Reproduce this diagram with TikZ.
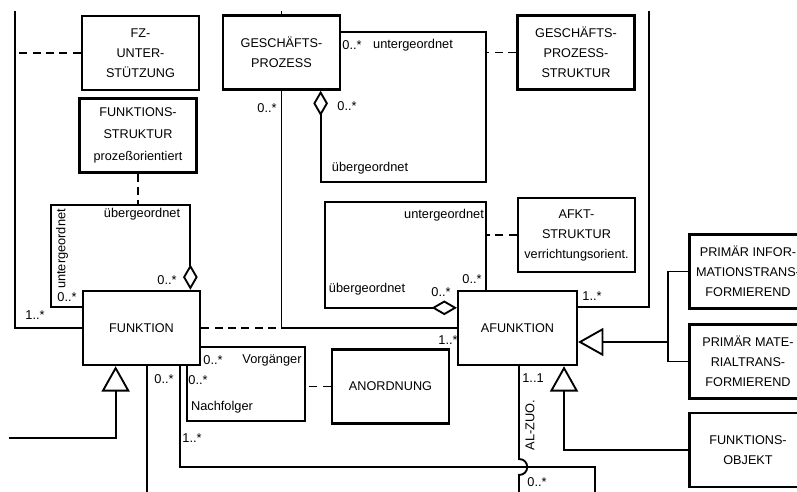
\documentclass[tikz,border=0pt]{standalone}
\usepackage{fontspec}
\setmainfont{Liberation Sans}
\usetikzlibrary{calc,positioning,arrows.meta}

\tikzset{
  klasse/.style={draw, line width=1.8pt, inner sep=0pt, align=center,
    minimum width=88pt, minimum height=55.5pt,
    font=\fontsize{9.5}{15}\selectfont},
  lbl/.style={inner sep=0pt, font=\fontsize{9.6}{11}\selectfont},
  kante/.style={line width=1.4pt},
  strich/.style={kante, dash pattern=on 6pt off 4pt},
  gen/.style={kante, -{Triangle[open, length=19pt, width=21pt]}},
  agg/.style={kante, -{Diamond[open, length=19pt, width=11pt]}}
}

\begin{document}
\begin{tikzpicture}[x=0.75pt, y=-0.75pt]

\fill[white] (0,0) rectangle (797,492);
\useasboundingbox (0,0) rectangle (797,492);

\node[klasse] (fz) at (140.5,53) {FZ-\\UNTER-\\STÜTZUNG};
\node[klasse, font=\fontsize{9.5}{16.5}\selectfont] (fstruk) at (138,135.5) {FUNKTIONS-\\STRUKTUR\\prozeßorientiert};
\node[klasse] (gp) at (281.5,52.5) {GESCHÄFTS-\\PROZESS};
\node[klasse] (gps) at (576,52.5) {GESCHÄFTS-\\PROZESS-\\STRUKTUR};
\node[klasse] (funktion) at (141.5,328) {FUNKTION};
\node[klasse] (afkt) at (576.5,235) {AFKT-\\STRUKTUR\\verrichtungsorient.};
\node[klasse, minimum width=89pt] (afunktion) at (517.5,328) {AFUNKTION};
\node[klasse] (anordnung) at (390.5,386.5) {ANORDNUNG};
\node[klasse] (pinfo) at (748,271.5) {PRIMÄR INFOR-\\MATIONSTRANS-\\FORMIEREND};
\node[klasse] (pmat) at (748,361.5) {PRIMÄR MATE-\\RIALTRANS-\\FORMIEREND};
\node[klasse] (fobj) at (748,450) {FUNKTIONS-\\OBJEKT};

\coordinate (lefttop) at (15,11);
\coordinate (rechts) at (649,11);
\coordinate (bot) at (0,500);
\coordinate (gpr) at (486,182);
\coordinate (fl) at (51,205);
\coordinate (vl) at (305,421);
\coordinate (gl) at (9,438);
\coordinate (br) at (595,467);
\coordinate (al) at (325,202);
\coordinate (gabel) at (668,342);
\coordinate (f1) at ($(funktion.south west)+(65,0)$);
\coordinate (f2) at ($(funktion.south east)+(-21,0)$);
\coordinate (az) at ($(afunktion.south west)+(62,0)$);
\coordinate (ag) at ($(afunktion.south east)+(-14,0)$);
\coordinate (ar) at ($(afunktion.north west)+(29,0)$);

\draw[kante] (funktion.west) -| (lefttop);
\draw[strich] (fz.west) -- (fz.west -| lefttop);
\draw[kante] (gp.north) -- (gp.north |- lefttop);
\draw[kante] (gp.south) |- (afunktion.west);
\draw[strich] (funktion.east) -- (funktion.east -| gp.south);

\draw[agg] ($(gp.north east)+(0,18)$) -| (gpr) -| ($(gp.south west)+(99,0)$);
\draw[strich] (gps.west) -- (gps.west -| gpr);

\draw[strich] (fstruk.south) -- (fstruk.south |- fl);
\draw[agg] ($(funktion.north west)+(0,17)$) -| (fl) -| ($(funktion.north east)+(-11,0)$);

\draw[kante] ($(funktion.south east)+(0,-19)$) -| (vl) -| ($(funktion.south east)+(-14,0)$);
\draw[strich] (anordnung.west) -- (anordnung.west -| vl);

\draw[gen] (gl) -| ($(funktion.south west)+(34,0)$);
\draw[kante] (f1) -- (f1 |- bot);
\draw[kante] (f2) |- (br) -- (br |- bot);
\draw[kante] (az) -- ($(az |- br)+(0,-8)$) .. controls +(11,0) and +(11,0) .. ($(az |- br)+(0,8)$) -- (az |- bot);

\draw[gen] (fobj.west) -| (ag);
\draw[kante] (pinfo.west) -| (gabel) |- (pmat.west);
\draw[gen] (gabel) -- (gabel -| afunktion.east);
\draw[kante] ($(afunktion.north east)+(0,17)$) -| (rechts);

\draw[agg] (ar) |- (al) |- ($(afunktion.north west)+(0,18)$);
\draw[strich] (afkt.west) -- (afkt.west -| ar);

\node[lbl] (m1) at (352,45) {0..*};
\node[lbl] (r1) at (413,45) {untergeordnet};
\node[lbl] (m2) at (267,108) {0..*};
\node[lbl] (m3) at (347,106) {0..*};
\node[lbl] (r2) at (370,168) {übergeordnet};

\node[lbl] (r3) at (142,214) {übergeordnet};
\node[lbl, rotate=90] (r4) at (62,249) {untergeordnet};
\node[lbl] (m4) at (67,297) {0..*};
\node[lbl] (m5) at (167,280) {0..*};
\node[lbl] (m6) at (35,315) {1..*};

\node[lbl] (m7) at (213,360) {0..*};
\node[lbl] (r5) at (272,360) {Vorgänger};
\node[lbl] (m8) at (198,380) {0..*};
\node[lbl] (r6) at (222,407) {Nachfolger};
\node[lbl] (m9) at (164,379) {0..*};
\node[lbl] (m10) at (192,438) {1..*};
\node[lbl] (m11) at (448,340) {1..*};

\node[lbl] (r7) at (444,215) {untergeordnet};
\node[lbl] (r8) at (367,289) {übergeordnet};
\node[lbl] (m12) at (441,292) {0..*};
\node[lbl] (m13) at (472,279) {0..*};
\node[lbl] (m14) at (592,296) {1..*};

\node[lbl] (m15) at (533,378) {1..1};
\node[lbl, rotate=90] (r9) at (530,425) {AL-ZUO.};
\node[lbl] (m16) at (537,482) {0..*};

\end{tikzpicture}
\end{document}
